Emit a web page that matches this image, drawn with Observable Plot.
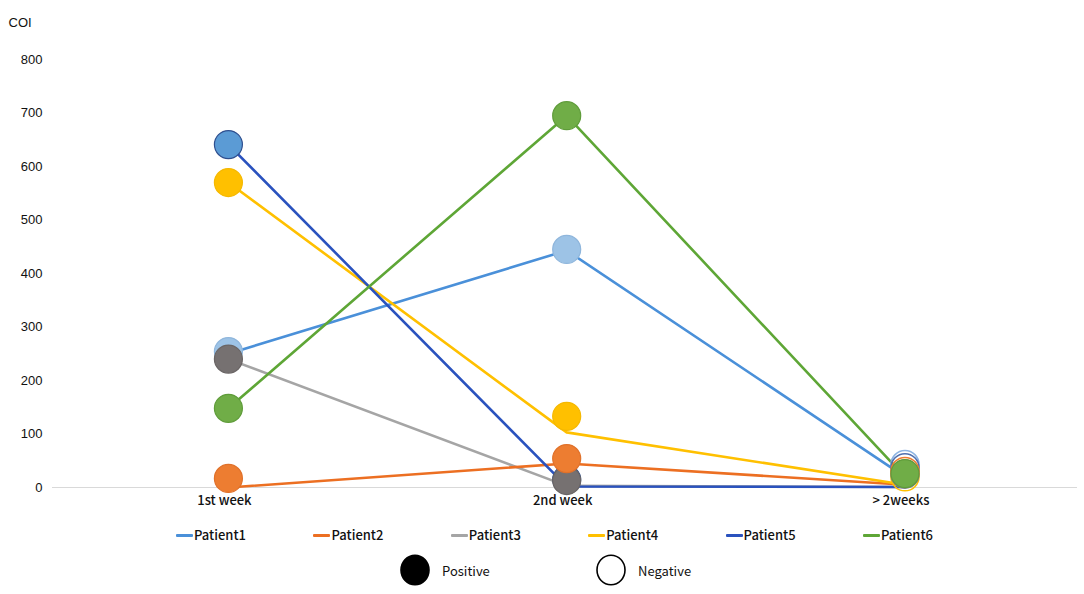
<!DOCTYPE html>
<html>
<head>
<meta charset="utf-8">
<script src="https://cdn.jsdelivr.net/npm/d3@7"></script>
<script src="https://cdn.jsdelivr.net/npm/@observablehq/plot@0.6"></script>
<style>
  html, body { margin: 0; padding: 0; background: #fff; }
  #wrap { position: relative; width: 1084px; height: 594px; background: #fff; overflow: hidden; }
  #chart svg { font-family: "Liberation Sans", Arial, sans-serif; }
  #chart [aria-label="x-axis tick label"] text { font-family: "Noto Sans CJK SC", sans-serif; font-size: 13px; font-weight: 500; fill: #111; }
  #chart [aria-label="y-axis tick label"] text { font-size: 13px; fill: #111; }
  .leg { position: absolute; font-family: "Noto Sans CJK SC", sans-serif; font-size: 13px; font-weight: 500; color: #111; line-height: 16px; white-space: nowrap; }
  .sw { display: inline-block; width: 17px; height: 3px; vertical-align: middle; margin-right: 1px; position: relative; top: -1px; border-radius: 1px; }
  .leg2 { position: absolute; font-family: "Noto Sans CJK SC", sans-serif; font-size: 13px; color: #111; white-space: nowrap; }
</style>
</head>
<body>
<div id="wrap">
  <div id="chart"></div>
  <div id="legend"></div>
</div>
<script>
// ---- data ----
const weeks = ["1st week", "2nd week", "> 2weeks"];
const patients = ["Patient1", "Patient2", "Patient3", "Patient4", "Patient5", "Patient6"];
const yTicks = [0, 100, 200, 300, 400, 500, 600, 700, 800];

// line values (COI) per week
const patient1Line = [250, 443, 20];
const patient2Line = [0, 45, 5];
const patient3Line = [240, 3, 1];
const patient4Line = [570, 103, 5];
const patient5Line = [641, 2, 1];
const patient6Line = [148, 695, 20];

// marker values (COI) per week
const patient1Marker = [254, 445, 43];
const patient2Marker = [17, 54, 30];
const patient3Marker = [240, 13, 25];
const patient4Marker = [570, 133, 20];
const patient5Marker = [641, 15, 37];
const patient6Marker = [148, 695, 26];

// result per week: true = positive, false = negative
const patient1Status = [true, true, false];
const patient2Status = [true, true, false];
const patient3Status = [true, true, false];
const patient4Status = [true, true, false];
const patient5Status = [true, true, false];
const patient6Status = [true, true, true];

// ---- styles ----
const lineColors = ["#4a90d9", "#ec6f22", "#a5a5a5", "#ffc000", "#2a52be", "#5ea636"];
const markerFills = ["#9dc3e6", "#ed7d31", "#767171", "#ffc000", "#5b9bd5", "#70ad47"];
const markerStrokes = ["#8fb6dc", "#e0712a", "#6a6565", "#f5b800", "#2f4f8f", "#5f9c3a"];
const openStrokes = ["#8db4e2", "#ed7d31", "#8a8585", "#ffc000", "#4f6fae", "#70ad47"];
const markerOrder = [0, 4, 3, 2, 1, 5];
const lineOrder = [2, 0, 1, 3, 4, 5];

const lineSets = [patient1Line, patient2Line, patient3Line, patient4Line, patient5Line, patient6Line];
const markerSets = [patient1Marker, patient2Marker, patient3Marker, patient4Marker, patient5Marker, patient6Marker];
const statusSets = [patient1Status, patient2Status, patient3Status, patient4Status, patient5Status, patient6Status];

const lineMarks = lineOrder.map(k =>
  Plot.line(lineSets[k].map((v, i) => ({i, v})), {
    x: "i", y: "v", stroke: lineColors[k], strokeWidth: 2.6, strokeLinejoin: "round"
  })
);
const dotMarks = markerOrder.map(k => {
  const rows = markerSets[k].map((v, i) => ({i, v, pos: statusSets[k][i]}));
  return [
    Plot.dot(rows.filter(d => d.pos), {x: "i", y: "v", r: 14, fill: markerFills[k], stroke: markerStrokes[k], strokeWidth: 1.2}),
    Plot.dot(rows.filter(d => !d.pos), {x: "i", y: "v", r: 14, fill: "none", stroke: openStrokes[k], strokeWidth: 1.6})
  ];
});

const chart = Plot.plot({
  width: 1084,
  height: 510,
  marginLeft: 52,
  marginRight: 7,
  marginTop: 59,
  marginBottom: 23,
  x: {type: "linear", domain: [-0.52, 2.51], axis: null},
  y: {domain: [0, 800], axis: null},
  marks: [
    Plot.ruleY([0], {stroke: "#d9d9d9", strokeWidth: 1.2}),
    Plot.axisY({ticks: yTicks, tickSize: 0, tickPadding: 10, label: null}),
    Plot.axisX({ticks: [0, 1, 2], tickFormat: i => weeks[i], tickSize: 0, tickPadding: 8, label: null, dx: -4}),
    Plot.text(["COI"], {frameAnchor: "top-left", dx: -44, dy: -42, textAnchor: "start", fontSize: 13, fill: "#111"}),
    ...lineMarks,
    ...dotMarks.flat()
  ]
});
document.getElementById("chart").appendChild(chart);

// ---- legend ----
const legend = document.getElementById("legend");
patients.forEach((p, k) => {
  const el = document.createElement("div");
  el.className = "leg";
  el.style.left = (176 + k * 137.4) + "px";
  el.style.top = "527px";
  el.innerHTML = `<span class="sw" style="background:${lineColors[k]}"></span>${p}`;
  legend.appendChild(el);
});
const statusLegend = [
  {label: "Positive", left: 400, fill: "#000"},
  {label: "Negative", left: 596, fill: "#fff"}
];
statusLegend.forEach(s => {
  const el = document.createElement("div");
  el.className = "leg2";
  el.style.left = s.left + "px";
  el.style.top = "554px";
  el.innerHTML = `<svg width="32" height="32" style="vertical-align:middle"><ellipse cx="15" cy="16" rx="14" ry="14.8" fill="${s.fill}" stroke="#000" stroke-width="1.6"/></svg><span style="margin-left:10px;vertical-align:middle">${s.label}</span>`;
  legend.appendChild(el);
});
</script>
</body>
</html>
